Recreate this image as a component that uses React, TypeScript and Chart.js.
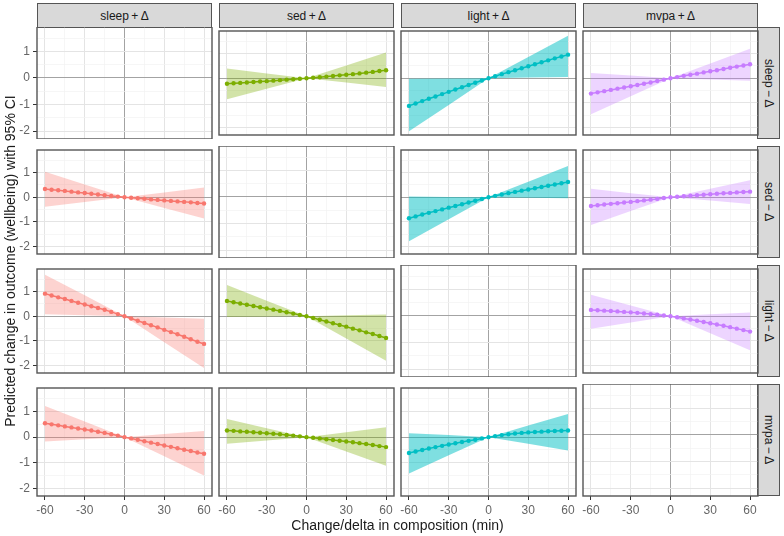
import { useEffect, useRef } from 'react';
import Chart from 'chart.js/auto';

// rows = activity taken away (−Δ), columns = activity added (+Δ)
const activities = ['sleep', 'sed', 'light', 'mvpa'];
const activityColors = ['#F8766D', '#7CAE00', '#00BFC4', '#C77CFF'];
const ribbonColors = [
  'rgba(248,118,109,0.32)',
  'rgba(124,174,0,0.34)',
  'rgba(0,191,196,0.5)',
  'rgba(199,124,255,0.32)',
];

const minutes = [-60, -55, -50, -45, -40, -35, -30, -25, -20, -15, -10, -5, 0, 5, 10, 15, 20, 25, 30, 35, 40, 45, 50, 55, 60];
const ciMinutes = [-60, -30, 0, 30, 60];

const xTicks = [-60, -45, -30, -15, 0, 15, 30, 45, 60];
const yTicks = [-2, -1.5, -1, -0.5, 0, 0.5, 1, 1.5];

// sleep − Δ
const sleepSedEst = [-0.22, -0.2, -0.185, -0.17, -0.15, -0.13, -0.115, -0.095, -0.075, -0.055, -0.04, -0.02, 0, 0.02, 0.045, 0.07, 0.095, 0.12, 0.145, 0.17, 0.2, 0.23, 0.26, 0.295, 0.33];
const sleepSedLow = [-0.85, -0.42, 0, -0.17, -0.35];
const sleepSedHigh = [0.4, 0.2, 0, 0.52, 1.05];

const sleepLightEst = [-1.12, -1.02, -0.925, -0.83, -0.735, -0.64, -0.55, -0.455, -0.36, -0.27, -0.18, -0.09, 0, 0.085, 0.17, 0.25, 0.33, 0.41, 0.49, 0.57, 0.65, 0.73, 0.81, 0.885, 0.96];
const sleepLightLow = [-2.15, -1.08, 0, 0.03, 0.05];
const sleepLightHigh = [-0.02, -0.01, 0, 0.87, 1.73];

const sleepMvpaEst = [-0.62, -0.57, -0.52, -0.47, -0.42, -0.37, -0.32, -0.27, -0.22, -0.17, -0.11, -0.055, 0, 0.05, 0.1, 0.145, 0.19, 0.24, 0.285, 0.33, 0.38, 0.43, 0.475, 0.52, 0.57];
const sleepMvpaLow = [-1.46, -0.73, 0, -0.05, -0.1];
const sleepMvpaHigh = [0.22, 0.11, 0, 0.6, 1.2];

// sed − Δ
const sedSleepEst = [0.34, 0.31, 0.285, 0.26, 0.23, 0.2, 0.175, 0.145, 0.115, 0.085, 0.055, 0.03, 0, -0.02, -0.04, -0.06, -0.085, -0.105, -0.125, -0.145, -0.165, -0.185, -0.205, -0.23, -0.25];
const sedSleepLow = [-0.38, -0.19, 0, -0.43, -0.86];
const sedSleepHigh = [1.04, 0.52, 0, 0.2, 0.4];

const sedLightEst = [-0.85, -0.775, -0.7, -0.63, -0.56, -0.49, -0.42, -0.35, -0.28, -0.21, -0.14, -0.07, 0, 0.06, 0.115, 0.17, 0.22, 0.27, 0.32, 0.37, 0.42, 0.47, 0.52, 0.57, 0.62];
const sedLightLow = [-1.78, -0.89, 0, -0.02, -0.04];
const sedLightHigh = [0.03, 0.015, 0, 0.63, 1.27];

const sedMvpaEst = [-0.35, -0.32, -0.29, -0.265, -0.24, -0.21, -0.185, -0.155, -0.125, -0.095, -0.065, -0.03, 0, 0.025, 0.045, 0.065, 0.085, 0.105, 0.125, 0.145, 0.165, 0.18, 0.2, 0.215, 0.23];
const sedMvpaLow = [-1.12, -0.56, 0, -0.13, -0.27];
const sedMvpaHigh = [0.35, 0.17, 0, 0.35, 0.69];

// light − Δ
const lightSleepEst = [0.92, 0.845, 0.77, 0.7, 0.625, 0.55, 0.48, 0.41, 0.335, 0.265, 0.18, 0.09, 0, -0.09, -0.18, -0.27, -0.36, -0.45, -0.55, -0.64, -0.73, -0.83, -0.93, -1.03, -1.12];
const lightSleepLow = [0.08, 0.04, 0, -1.05, -2.1];
const lightSleepHigh = [1.69, 0.85, 0, -0.05, -0.1];

const lightSedEst = [0.62, 0.57, 0.52, 0.47, 0.42, 0.37, 0.32, 0.27, 0.22, 0.165, 0.11, 0.055, 0, -0.07, -0.14, -0.21, -0.28, -0.35, -0.42, -0.5, -0.57, -0.65, -0.72, -0.8, -0.88];
const lightSedLow = [-0.03, -0.015, 0, -0.9, -1.8];
const lightSedHigh = [1.27, 0.63, 0, 0.04, 0.07];

const lightMvpaEst = [0.26, 0.245, 0.23, 0.215, 0.2, 0.18, 0.16, 0.14, 0.115, 0.09, 0.065, 0.035, 0, -0.04, -0.085, -0.13, -0.18, -0.23, -0.28, -0.33, -0.38, -0.44, -0.5, -0.56, -0.62];
const lightMvpaLow = [-0.5, -0.25, 0, -0.69, -1.38];
const lightMvpaHigh = [0.88, 0.44, 0, 0.08, 0.15];

// mvpa − Δ
const mvpaSleepEst = [0.54, 0.5, 0.46, 0.42, 0.38, 0.34, 0.3, 0.26, 0.21, 0.165, 0.115, 0.06, 0, -0.05, -0.105, -0.16, -0.215, -0.27, -0.325, -0.38, -0.435, -0.49, -0.54, -0.6, -0.65];
const mvpaSleepLow = [-0.17, -0.085, 0, -0.75, -1.5];
const mvpaSleepHigh = [1.22, 0.61, 0, 0.12, 0.24];

const mvpaSedEst = [0.26, 0.245, 0.225, 0.21, 0.19, 0.17, 0.15, 0.13, 0.11, 0.085, 0.06, 0.03, 0, -0.025, -0.05, -0.08, -0.11, -0.14, -0.17, -0.2, -0.235, -0.27, -0.31, -0.35, -0.39];
const mvpaSedLow = [-0.26, -0.13, 0, -0.56, -1.12];
const mvpaSedHigh = [0.71, 0.35, 0, 0.19, 0.39];

const mvpaLightEst = [-0.62, -0.56, -0.5, -0.445, -0.39, -0.34, -0.29, -0.24, -0.19, -0.145, -0.1, -0.05, 0, 0.04, 0.08, 0.11, 0.14, 0.165, 0.185, 0.2, 0.215, 0.23, 0.24, 0.25, 0.26];
const mvpaLightLow = [-1.42, -0.71, 0, -0.26, -0.52];
const mvpaLightHigh = [0.15, 0.08, 0, 0.45, 0.9];

type Series = { est: number[]; low: number[]; high: number[] };

const panelData: Record<string, Series> = {
  'sleep-sed': { est: sleepSedEst, low: sleepSedLow, high: sleepSedHigh },
  'sleep-light': { est: sleepLightEst, low: sleepLightLow, high: sleepLightHigh },
  'sleep-mvpa': { est: sleepMvpaEst, low: sleepMvpaLow, high: sleepMvpaHigh },
  'sed-sleep': { est: sedSleepEst, low: sedSleepLow, high: sedSleepHigh },
  'sed-light': { est: sedLightEst, low: sedLightLow, high: sedLightHigh },
  'sed-mvpa': { est: sedMvpaEst, low: sedMvpaLow, high: sedMvpaHigh },
  'light-sleep': { est: lightSleepEst, low: lightSleepLow, high: lightSleepHigh },
  'light-sed': { est: lightSedEst, low: lightSedLow, high: lightSedHigh },
  'light-mvpa': { est: lightMvpaEst, low: lightMvpaLow, high: lightMvpaHigh },
  'mvpa-sleep': { est: mvpaSleepEst, low: mvpaSleepLow, high: mvpaSleepHigh },
  'mvpa-sed': { est: mvpaSedEst, low: mvpaSedLow, high: mvpaSedHigh },
  'mvpa-light': { est: mvpaLightEst, low: mvpaLightLow, high: mvpaLightHigh },
};

// layout (px)
const colLefts = [37, 219, 401, 583];
const rowTops = [27, 146, 265, 384];
const panelW = 175;
const panelH = 112;
const xAxisH = 30;
const side = 10;
const fontFamily = '"Liberation Sans", Arial, sans-serif';

const majorGrid = '#E4E4E4';
const minorGrid = '#F2F2F2';
const zeroLine = '#A3A3A3';
const tickText = '#666666';

const panelBorder = {
  id: 'panelBorder',
  afterDraw(chart: Chart) {
    const { ctx, chartArea } = chart;
    ctx.save();
    ctx.strokeStyle = '#555555';
    ctx.lineWidth = 1.4;
    ctx.strokeRect(chartArea.left, chartArea.top, chartArea.right - chartArea.left, chartArea.bottom - chartArea.top);
    ctx.restore();
  },
};

const Panel = ({ row, col }: { row: number; col: number }) => {
  const canvasRef = useRef<HTMLCanvasElement>(null);

  useEffect(() => {
    if (!canvasRef.current) return;
    const series = panelData[`${activities[row]}-${activities[col]}`];
    const color = activityColors[col];

    const datasets: any[] = series
      ? [
          {
            data: minutes.map((m, i) => ({ x: m, y: series.est[i] })),
            borderColor: color,
            borderWidth: 1.5,
            pointRadius: 2.2,
            pointBackgroundColor: color,
            pointBorderColor: color,
            pointBorderWidth: 0,
            fill: false,
          },
          {
            data: ciMinutes.map((m, i) => ({ x: m, y: series.high[i] })),
            borderColor: 'rgba(0,0,0,0)',
            borderWidth: 0,
            pointRadius: 0,
            backgroundColor: ribbonColors[col],
            fill: '+1',
          },
          {
            data: ciMinutes.map((m, i) => ({ x: m, y: series.low[i] })),
            borderColor: 'rgba(0,0,0,0)',
            borderWidth: 0,
            pointRadius: 0,
            fill: false,
          },
        ]
      : [];

    const showX = row === 3;
    const showY = col === 0;

    const chart = new Chart(canvasRef.current, {
      type: 'line',
      data: { datasets },
      options: {
        responsive: true,
        maintainAspectRatio: false,
        animation: false,
        events: [],
        layout: { padding: { left: showY ? 0 : side, right: side, top: 0, bottom: 0 } },
        plugins: { legend: { display: false }, tooltip: { enabled: false } },
        scales: {
          x: {
            type: 'linear',
            min: -66,
            max: 66,
            afterBuildTicks: (axis: any) => {
              axis.ticks = xTicks.map((v) => ({ value: v }));
            },
            afterFit: (axis: any) => {
              axis.height = showX ? xAxisH : 0;
              axis.paddingLeft = 0;
              axis.paddingRight = 0;
            },
            border: { display: false },
            grid: {
              color: (ctx: any) => {
                const v = ctx.tick?.value;
                if (v === 0) return zeroLine;
                return v % 30 === 0 ? majorGrid : minorGrid;
              },
              lineWidth: (ctx: any) => (ctx.tick?.value % 30 === 0 ? 1 : 0.7),
              drawTicks: showX,
              tickLength: 4,
              tickColor: (ctx: any) => (ctx.tick?.value % 30 === 0 ? '#333333' : 'rgba(0,0,0,0)'),
            },
            ticks: {
              display: showX,
              autoSkip: false,
              maxRotation: 0,
              padding: 3,
              color: tickText,
              font: { family: fontFamily, size: 12 },
              callback: (v: any) => (Number(v) % 30 === 0 ? String(v) : ''),
            },
          },
          y: {
            type: 'linear',
            min: -2.3,
            max: 1.92,
            afterBuildTicks: (axis: any) => {
              axis.ticks = yTicks.map((v) => ({ value: v }));
            },
            afterFit: (axis: any) => {
              axis.width = showY ? colLefts[0] : 0;
              axis.paddingTop = 0;
              axis.paddingBottom = 0;
            },
            border: { display: false },
            grid: {
              color: (ctx: any) => {
                const v = ctx.tick?.value;
                if (v === 0) return zeroLine;
                return Number.isInteger(v) ? majorGrid : minorGrid;
              },
              lineWidth: (ctx: any) => (Number.isInteger(ctx.tick?.value) ? 1 : 0.7),
              drawTicks: showY,
              tickLength: 4,
              tickColor: (ctx: any) => (Number.isInteger(ctx.tick?.value) ? '#333333' : 'rgba(0,0,0,0)'),
            },
            ticks: {
              display: showY,
              autoSkip: false,
              padding: 3,
              color: tickText,
              font: { family: fontFamily, size: 12 },
              callback: (v: any) => (Number.isInteger(Number(v)) ? String(v) : ''),
            },
          },
        },
      },
      plugins: [panelBorder],
    });

    return () => {
      chart.destroy();
    };
  }, [row, col]);

  const left = col === 0 ? 0 : colLefts[col] - side;
  const width = (col === 0 ? colLefts[0] : side) + panelW + side;
  const height = panelH + (row === 3 ? xAxisH : 0);

  return (
    <div style={{ position: 'absolute', left, top: rowTops[row], width, height }}>
      <canvas ref={canvasRef} />
    </div>
  );
};

const stripStyle: React.CSSProperties = {
  position: 'absolute',
  boxSizing: 'border-box',
  background: '#D9D9D9',
  border: '1.4px solid #555555',
  display: 'flex',
  alignItems: 'center',
  justifyContent: 'center',
  fontFamily,
  fontSize: 12,
  color: '#1A1A1A',
};

const App = () => {
  return (
    <div style={{ position: 'absolute', left: 0, top: 0, width: 784, height: 536, background: '#FFFFFF', fontFamily }}>
      {activities.map((a, c) => (
        <div key={`top-${a}`} style={{ ...stripStyle, left: colLefts[c], top: 3, width: panelW, height: rowTops[0] - 3 + 1 }}>
          {`${a}\u2009+\u2009Δ`}
        </div>
      ))}
      {activities.map((a, r) => (
        <div
          key={`side-${a}`}
          style={{ ...stripStyle, left: colLefts[3] + panelW - 1, top: rowTops[r], width: 23, height: panelH, writingMode: 'vertical-rl' }}
        >
          {`${a}\u2009\u2212\u2009Δ`}
        </div>
      ))}
      {activities.map((_, r) => activities.map((__, c) => <Panel key={`${r}-${c}`} row={r} col={c} />))}
      <div
        style={{
          position: 'absolute',
          left: 10 - 250,
          top: 261 - 8,
          width: 500,
          height: 16,
          lineHeight: '16px',
          textAlign: 'center',
          transform: 'rotate(-90deg)',
          fontSize: 14,
          color: '#1A1A1A',
        }}
      >
        Predicted change in outcome (wellbeing) with 95% CI
      </div>
      <div
        style={{
          position: 'absolute',
          left: colLefts[0],
          top: 517,
          width: colLefts[3] + panelW - colLefts[0],
          height: 16,
          lineHeight: '16px',
          textAlign: 'center',
          fontSize: 14,
          color: '#1A1A1A',
        }}
      >
        Change/delta in composition (min)
      </div>
    </div>
  );
};

export default App;
